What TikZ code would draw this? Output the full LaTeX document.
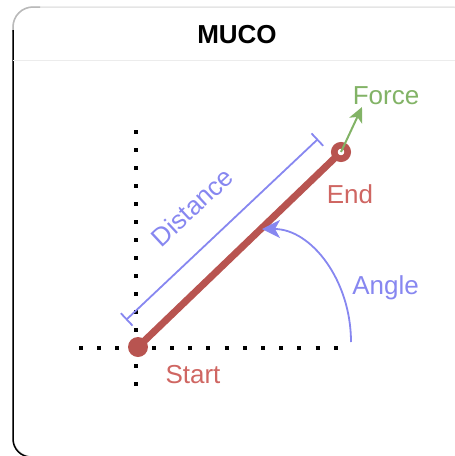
\documentclass[tikz,border=0pt]{standalone}
\usepackage{fontspec}
\setmainfont{Liberation Sans}
\usetikzlibrary{arrows.meta,backgrounds}
\definecolor{barred}{HTML}{B85450}
\definecolor{labred}{RGB}{207,102,98}
\definecolor{dimblue}{RGB}{135,135,240}
\definecolor{forcegreen}{HTML}{82B366}

\begin{document}
\begin{tikzpicture}[x=1pt,y=-1pt,>=Stealth,
    lab/.style={anchor=base,inner sep=0pt,font=\fontsize{26}{30}\selectfont},
    axis/.style={line width=4pt,dash pattern=on 4pt off 14pt}]
  \useasboundingbox (0,0) rectangle (455,456);
  % card
  \draw[gray!20,line width=1.5pt,rounded corners=20pt] (13,7) rectangle (472,457);
  \draw[gray!55,line width=1.5pt,rounded corners=20pt] (13,32) -- (13,7) -- (40,7);
  \draw[line width=1.5pt,rounded corners=18pt] (13,30) -- (13,457) -- (60,457);
  \draw[gray!15] (13,60) -- (455,60);
  \node[lab,font=\bfseries\fontsize{26}{30}\selectfont] (title) at (237,43) {MUCO};
  % axes
  \coordinate (vtop) at (136,130);
  \coordinate (vbot) at (136,386);
  \coordinate (hleft) at (79,348);
  \coordinate (hright) at (339,348);
  \draw[axis] (vtop) -- (vbot);
  \draw[axis,dash pattern=on 4pt off 14.2pt] (hleft) -- (hright);
  % bar
  \node[circle,fill=barred,inner sep=0pt,minimum size=20pt] (start) at (138,347) {};
  \node[circle,draw=barred,fill=white,line width=6.6pt,inner sep=0pt,minimum size=13.4pt] (end) at (341,152) {};
  \begin{scope}[on background layer]
    \draw[barred,line width=7pt] (start.center) -- (end.center);
  \end{scope}
  \node[lab,text=labred] (startlab) at (193,383) {Start};
  \node[lab,text=labred] (endlab) at (350,203) {End};
  % force
  \coordinate (ftip) at (362,107);
  \draw[forcegreen,line width=2pt,-{Stealth[length=15pt,width=14pt,inset=4pt]}] (end.center) -- (ftip);
  \node[lab,text=forcegreen] (forcelab) at (386,104) {Force};
  % distance
  \coordinate (d0) at (126,320);
  \coordinate (d1) at (318,139);
  \draw[dimblue,line width=1.8pt,{Bar[width=17pt]}-{Bar[width=17pt]}] (d0) -- (d1);
  \node[lab,anchor=center,rotate=43,text=dimblue] (distlab) at (192,207) {Distance};
  % angle
  \coordinate (a0) at (351,342);
  \coordinate (a1) at (262,229);
  \draw[dimblue,line width=1.8pt,-{Stealth[length=18pt,width=18pt,inset=5pt]}] (a0) .. controls (351,280) and (311,229) .. (a1);
  \node[lab,text=dimblue] (anglelab) at (385.5,294) {Angle};
\end{tikzpicture}
\end{document}
